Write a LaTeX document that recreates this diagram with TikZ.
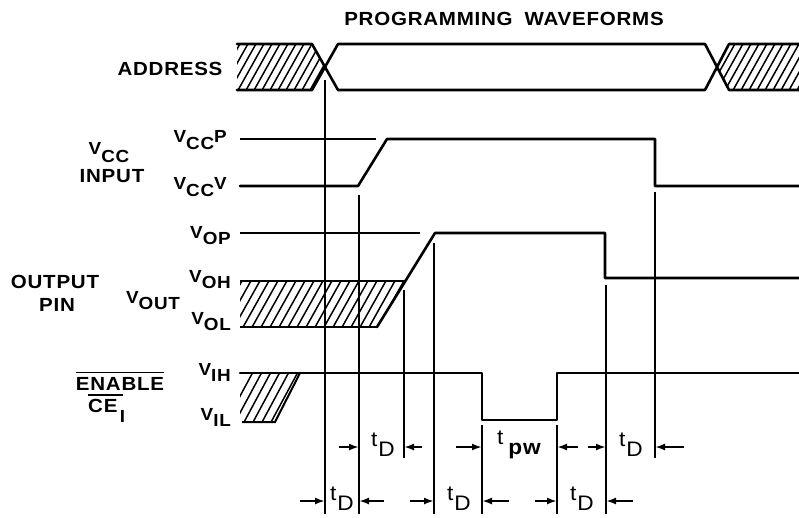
\documentclass[tikz,border=0pt]{standalone}
\usepackage{fontspec}
\newfontfamily\lbl{Liberation Sans}[LetterSpace=4,FakeStretch=1.08]
\usetikzlibrary{arrows.meta}
\newcommand\Vsb[3][6pt]{V\raisebox{-#1}{#2}#3}
\newcommand\tsub[1]{t\hspace{1pt}\raisebox{-10pt}{#1}}
\begin{document}
\begin{tikzpicture}[x=1pt,y=-1pt,
  wave/.style={line width=2.6pt, line join=round, line cap=round},
  refl/.style={line width=2pt},
  vline/.style={line width=1.8pt},
  hatchln/.style={line width=1.5pt},
  dim/.style={line width=2pt,-{Latex[length=10pt,width=7pt]}},
  lab/.style={font=\lbl\bfseries\fontsize{19}{19}\selectfont, inner sep=0pt},
  vlab/.style={font=\lbl\bfseries\fontsize{17.5}{17.5}\selectfont, inner sep=0pt},
  tlab/.style={font=\lbl\fontsize{21}{21}\selectfont, inner sep=0pt}]
\useasboundingbox (0,0) rectangle (799,517);

% ---------- titles and labels ----------
\node[lab] (title) at (504,19) {PROGRAMMING\hspace{12pt}WAVEFORMS};
\node[lab] (addr) at (170,69) {ADDRESS};
\node[vlab] (vccl) at (109,153) {\Vsb[8pt]{CC}{}};
\node[lab] (input) at (112,176) {INPUT};
\node[vlab,anchor=east] (vccp) at (227,140) {\Vsb[7pt]{CC}{P}};
\node[vlab,anchor=east] (vccv) at (227,187) {\Vsb[7pt]{CC}{V}};
\node[vlab,anchor=east] (vop) at (231,236) {\Vsb{OP}{}};
\node[vlab,anchor=east] (voh) at (231,280) {\Vsb{OH}{}};
\node[vlab,anchor=east] (vol) at (231,322) {\Vsb{OL}{}};
\node[vlab] (vout) at (153,301) {\Vsb{OUT}{}};
\node[lab] (outp) at (55,282) {OUTPUT};
\node[lab] (pin) at (57,305) {PIN};
\node[lab] (enable) at (120,384) {ENABLE};
\draw[line width=1.5pt] ([yshift=5pt]enable.north west) -- ([yshift=5pt]enable.north east);
\node[lab,anchor=west] (ce) at (88,406) {CE};
\draw[line width=1.5pt] ([yshift=4pt]ce.north west) -- ([yshift=4pt,xshift=5pt]ce.north east);
\node[vlab,anchor=west] (ceone) at ([xshift=2pt]ce.east |- 0,416) {I};
\node[vlab,anchor=east] (vih) at (231,372) {\Vsb{IH}{}};
\node[vlab,anchor=east] (vil) at (231,417) {\Vsb{IL}{}};

% ---------- address ----------
\begin{scope}
  \clip (237,44) -- (312,44) -- (325,67) -- (312,90) -- (237,90) -- cycle;
  \foreach \i in {205,213,...,330} \draw[hatchln] (\i,92) -- ++(28,-50);
\end{scope}
\begin{scope}
  \clip (717,67) -- (729,44) -- (799,44) -- (799,90) -- (729,90) -- cycle;
  \foreach \i in {700,708,...,800} \draw[hatchln] (\i,92) -- ++(28,-50);
\end{scope}
\draw[wave] (237,44) -- (312,44) -- (338,90) -- (705,90) -- (729,44) -- (799,44);
\draw[wave] (237,90) -- (312,90) -- (338,44) -- (705,44) -- (729,90) -- (799,90);

% ---------- Vcc ----------
\draw[refl] (240,139) -- (376,139);
\draw[wave] (240,186) -- (358,186) -- (387,139) -- (655,139) -- (655,186) -- (799,186);

% ---------- output ----------
\begin{scope}
  \clip (240,281) -- (405,281) -- (377,327) -- (240,327) -- cycle;
  \foreach \i in {215,224,...,410} \draw[hatchln] (\i,329) -- ++(28,-50);
\end{scope}
\draw[refl] (240,281) -- (405,281);
\draw[refl] (240,327) -- (377,327);
\draw[refl] (240,233) -- (420,233);
\draw[wave] (377,327) -- (435,233) -- (605,233) -- (605,278) -- (799,278);

% ---------- enable ----------
\begin{scope}
  \clip (240,373) -- (300,373) -- (275,422) -- (240,422) -- cycle;
  \foreach \i in {225,234,...,300} \draw[hatchln] (\i,424) -- ++(28,-52);
\end{scope}
\draw[refl] (300,373) -- (275,422) -- (242,422);
\draw[wave] (240,373) -- (482,373) -- (482,420) -- (557,420) -- (557,373) -- (799,373);

% ---------- timing verticals ----------
\coordinate (a1) at (325,80);  \coordinate (b1) at (325,514);
\coordinate (a2) at (359,195); \coordinate (b2) at (359,514);
\coordinate (a3) at (404,290); \coordinate (b3) at (404,458);
\coordinate (a4) at (434,243); \coordinate (b4) at (434,514);
\coordinate (a5) at (482,425); \coordinate (b5) at (482,514);
\coordinate (a6) at (557,425); \coordinate (b6) at (557,514);
\coordinate (a7) at (606,285); \coordinate (b7) at (606,514);
\coordinate (a8) at (655,192); \coordinate (b8) at (655,458);
\foreach \k in {1,...,8} \draw[vline] (a\k) -- (b\k);

% ---------- dimension arrows, upper row ----------
\coordinate (u2) at (359,447); \coordinate (u3) at (404,447);
\coordinate (u5) at (482,447); \coordinate (u6) at (557,447);
\coordinate (u7) at (606,447); \coordinate (u8) at (655,447);
\coordinate (s1) at (339,447); \coordinate (s2) at (422,447);
\coordinate (s3) at (456,447); \coordinate (s4) at (578,447);
\coordinate (s5) at (588,447); \coordinate (s6) at (684,447);
\draw[dim] (s1) -- (u2);
\draw[dim] (s2) -- (u3);
\draw[dim] (s3) -- (u5);
\draw[dim] (s4) -- (u6);
\draw[dim] (s5) -- (u7);
\draw[dim] (s6) -- (u8);
\node[tlab] (td1) at (383,445) {\tsub{D}};
\node[tlab] (tpw) at (519,445) {t\hspace{5pt}\raisebox{-10pt}{\bfseries pw}};
\node[tlab] (td2) at (631,445) {\tsub{D}};

% ---------- dimension arrows, lower row ----------
\coordinate (l1) at (325,501); \coordinate (l2) at (359,501);
\coordinate (l4) at (434,501); \coordinate (l5) at (482,501);
\coordinate (l6) at (557,501); \coordinate (l7) at (606,501);
\coordinate (r1) at (300,501); \coordinate (r2) at (384,501);
\coordinate (r3) at (410,501); \coordinate (r4) at (509,501);
\coordinate (r5) at (535,501); \coordinate (r6) at (633,501);
\draw[dim] (r1) -- (l1);
\draw[dim] (r2) -- (l2);
\draw[dim] (r3) -- (l4);
\draw[dim] (r4) -- (l5);
\draw[dim] (r5) -- (l6);
\draw[dim] (r6) -- (l7);
\node[tlab] (td3) at (342,499) {\tsub{D}};
\node[tlab] (td4) at (459,499) {\tsub{D}};
\node[tlab] (td5) at (582,499) {\tsub{D}};
\end{tikzpicture}
\end{document}
